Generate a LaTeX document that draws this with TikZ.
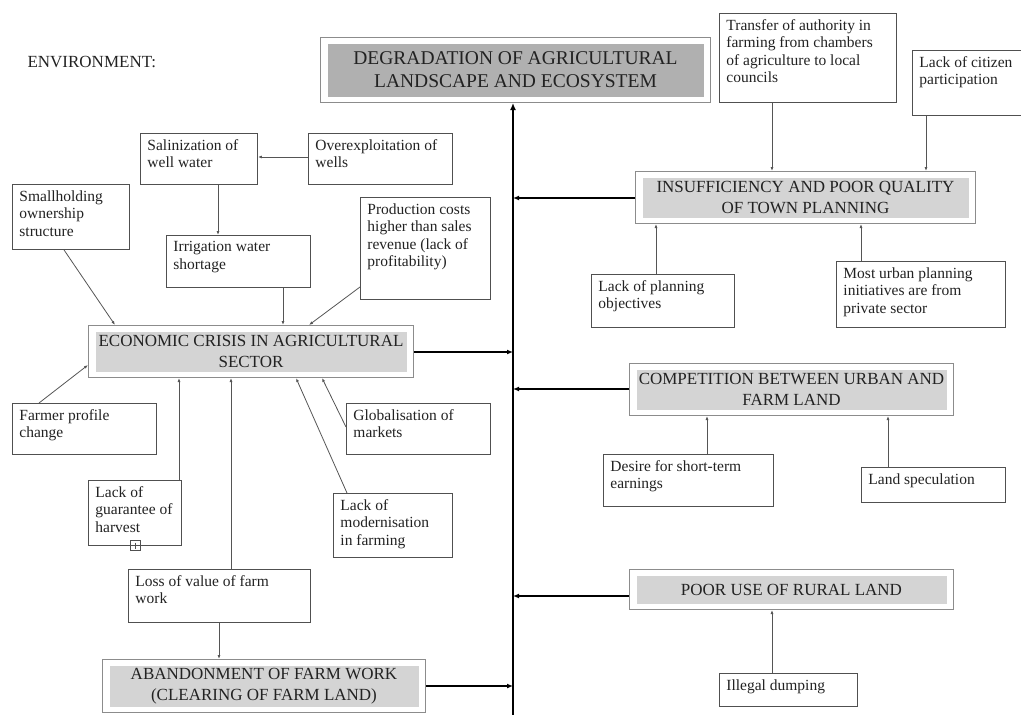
\documentclass[tikz,border=0pt]{standalone}
\usepackage{fontspec}
\setmainfont{Liberation Serif}
\usetikzlibrary{arrows.meta}
\definecolor{txt}{HTML}{222222}
\definecolor{boxc}{HTML}{505050}
\definecolor{hdrb}{HTML}{8C8C8C}
\definecolor{hdrfill}{HTML}{D4D4D4}
\definecolor{hdrdark}{HTML}{B0B0B0}
\definecolor{connc}{HTML}{555555}
\tikzset{
 sbox/.style={draw=boxc, line width=0.9pt, anchor=north west, inner xsep=7pt, inner ysep=6pt, text=txt, font=\fontsize{15.5}{17.5}\selectfont},
 hbox/.style={draw=hdrb, line width=1pt, fill=white, anchor=north west, inner sep=0pt, align=center, text=txt,
   font=\fontsize{17}{21}\selectfont,
   path picture={\fill[#1] ([shift={(7pt,-6pt)}]path picture bounding box.north west) rectangle ([shift={(-7pt,6pt)}]path picture bounding box.south east);}},
 hbox/.default=hdrfill,
 titlefont/.style={font=\fontsize{19.5}{23}\selectfont},
 conn/.style={draw=connc, line width=0.8pt, -{Latex[length=4pt,width=3pt]}},
 arr/.style={draw=black, line width=1.4pt, -{Latex[length=6pt,width=5pt]}},
 spine/.style={draw=black, line width=2pt, -{Latex[length=7pt,width=6pt]}},
}
\newcommand{\sbx}[6]{\node[sbox] (#1) at (#2,#3) {\parbox[c][\dimexpr #5pt-#3pt-12pt\relax][t]{\dimexpr #4pt-#2pt-14pt\relax}{\raggedright #6}};}
\newcommand{\hbx}[7]{\node[hbox=#6, minimum width=#4-#2, minimum height=#5-#3] (#1) at (#2,#3) {#7};}
\begin{document}
\begin{tikzpicture}[x=1pt,y=-1pt]
\useasboundingbox (0,0) rectangle (1021,715);
\node[anchor=west, text=txt, font=\fontsize{17}{20}\selectfont] (env) at (24,62) {ENVIRONMENT:};

% headers
\node[hbox=hdrdark, titlefont, minimum width=390, minimum height=65] (title) at (320,37) {DEGRADATION OF AGRICULTURAL\\LANDSCAPE AND ECOSYSTEM};
\hbx{ins}{635}{171}{975}{223}{hdrfill}{INSUFFICIENCY AND POOR QUALITY\\OF TOWN PLANNING}
\hbx{econ}{88}{325}{413}{377}{hdrfill}{ECONOMIC CRISIS IN AGRICULTURAL\\SECTOR}
\hbx{comp}{629}{363}{953}{415}{hdrfill}{COMPETITION BETWEEN URBAN AND\\FARM LAND}
\hbx{poor}{629}{569}{953}{609}{hdrfill}{POOR USE OF RURAL LAND}
\hbx{aband}{102}{659}{425}{712}{hdrfill}{ABANDONMENT OF FARM WORK\\(CLEARING OF FARM LAND)}

% small boxes
\sbx{sal}{140}{133}{257}{184}{Salinization of\\well water}
\sbx{over}{308}{133}{452}{184}{Overexploitation of\\wells}
\sbx{small}{12}{184}{129}{249}{Smallholding\\ownership\\structure}
\sbx{irr}{166}{235}{310}{287}{Irrigation water\\shortage}
\sbx{prod}{360}{197}{490}{299}{Production costs\\higher than sales\\revenue (lack of\\profitability)}
\sbx{farmer}{12}{403}{156}{454}{Farmer profile\\change}
\sbx{glob}{346}{403}{490}{454}{Globalisation of\\markets}
\sbx{guar}{88}{480}{181}{545}{Lack of\\guarantee of\\harvest}
\sbx{mod}{333}{493}{452}{557}{Lack of\\modernisation\\in farming}
\sbx{loss}{128}{569}{310}{622}{Loss of value of farm\\work}
\sbx{trans}{719}{13}{896}{102}{Transfer of authority in\\farming from chambers\\of agriculture to local\\councils}
\sbx{cit}{912}{50}{1040}{115}{Lack of citizen\\participation}
\sbx{plan}{591}{274}{734}{327}{Lack of planning\\objectives}
\sbx{urb}{836}{261}{1005}{327}{Most urban planning\\initiatives are from\\private sector}
\sbx{des}{603}{454}{773}{506}{Desire for short-term\\earnings}
\sbx{land}{861}{467}{1005}{502}{Land speculation}
\sbx{ill}{719}{673}{857}{706}{Illegal dumping}

% small expand icon under "harvest"
\draw[draw=boxc, line width=0.6pt] (130.5,540.5) rectangle (140.5,550.5);
\draw[draw=boxc, line width=0.6pt] (132.5,545.5) -- (138.5,545.5) (135.5,542.5) -- (135.5,548.5);

% spine
\coordinate (sp) at (513,715);
\draw[spine] (sp) -- (title.south -| sp);

% arrows to spine
\draw[arr] (econ.east |- 0,352) -- (sp |- 0,352);
\draw[arr] (aband.east |- 0,686) -- (sp |- 0,686);
\draw[arr] (ins.west |- 0,198) -- (sp |- 0,198);
\draw[arr] (comp.west |- 0,389) -- (sp |- 0,389);
\draw[arr] (poor.west |- 0,596) -- (sp |- 0,596);

% left connectors
\draw[conn] (over.west |- 0,157) -- (sal.east |- 0,157);
\draw[conn] (sal.south -| 218,0) -- (irr.north -| 218,0);
\draw[conn] (irr.south -| 283,0) -- (econ.north -| 283,0);
\draw[conn] (small.south -| 64,0) -- (econ.north -| 115,0);
\draw[conn] (prod.west |- 0,287) -- (econ.north -| 309,0);
\draw[conn] (farmer.north -| 39,0) -- (econ.west |- 0,365);
\draw[conn] (guar.north -| 179,0) -- (econ.south -| 179,0);
\draw[conn] (loss.north -| 231,0) -- (econ.south -| 231,0);
\draw[conn] (mod.north -| 347,0) -- (econ.south -| 296,0);
\draw[conn] (glob.west |- 0,427) -- (econ.south -| 322,0);
\draw[conn] (loss.south -| 219,0) -- (aband.north -| 219,0);

% right connectors
\draw[conn] (trans.south -| 772,0) -- (ins.north -| 772,0);
\draw[conn] (cit.south -| 926,0) -- (ins.north -| 926,0);
\draw[conn] (plan.north -| 656,0) -- (ins.south -| 656,0);
\draw[conn] (urb.north -| 861,0) -- (ins.south -| 861,0);
\draw[conn] (des.north -| 707,0) -- (comp.south -| 707,0);
\draw[conn] (land.north -| 888,0) -- (comp.south -| 888,0);
\draw[conn] (ill.north -| 772,0) -- (poor.south -| 772,0);
\end{tikzpicture}
\end{document}
